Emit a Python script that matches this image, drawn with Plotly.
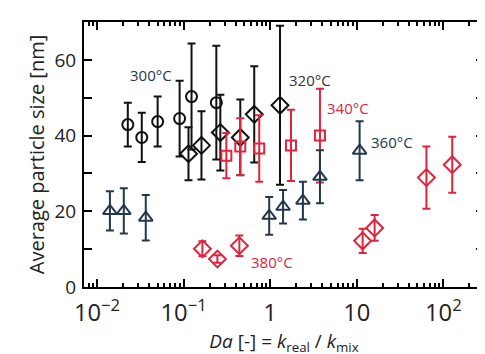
import plotly.graph_objects as go

# 300 °C (black circles)
x300 = [0.0227, 0.0329, 0.0502, 0.090, 0.1236, 0.239]
y300 = [42.9, 39.5, 43.7, 44.5, 50.3, 48.7]
e300 = [5.8, 6.5, 6.6, 10, 14, 15]

# 320 °C (black diamonds)
x320 = [0.114, 0.161, 0.266, 0.452, 0.655, 1.30]
y320 = [35.2, 37.4, 40.8, 39.5, 45.6, 48.0]
e320 = [7, 9, 10, 10, 12.7, 21]

# 340 °C (red squares)
x340 = [0.312, 0.452, 0.748, 1.74, 3.76]
y340 = [34.7, 37.1, 36.6, 37.4, 40.0]
e340 = [6, 7.5, 8.8, 9.4, 12.4]

# 360 °C (navy triangles)
x360 = [0.0141, 0.0204, 0.0366, 0.975, 1.41, 2.39, 3.76, 10.8]
y360 = [20.1, 20.1, 18.3, 18.8, 21.2, 22.8, 29.1, 36.0]
e360 = [5.2, 6, 6, 5, 4.4, 5, 7, 7.8]

# 380 °C (red diamonds)
x380 = [0.165, 0.246, 0.441, 11.7, 16.1, 63.8, 126.8]
y380 = [10.1, 7.4, 10.9, 12.2, 15.6, 28.9, 32.3]
e380 = [2, 1, 2.7, 3.2, 3.4, 8.2, 7.4]

labels = ["300°C", "320°C", "340°C", "360°C", "380°C"]

BLACK = "#111111"
RED = "#e0243c"
NAVY = "#22384e"
TXT = "#222222"

series = [
    (x300, y300, e300, "circle-open", BLACK, 11),
    (x320, y320, e320, "diamond-open", BLACK, 13),
    (x340, y340, e340, "square-open", RED, 10),
    (x360, y360, e360, "triangle-up-open", NAVY, 12),
    (x380, y380, e380, "diamond-open", RED, 13),
]

fig = go.Figure()
for (xs, ys, es, sym, col, sz), name in zip(series, labels):
    fig.add_trace(go.Scatter(
        x=xs, y=ys, mode="markers", name=name,
        marker=dict(symbol=sym, size=sz, color=col, line=dict(width=2, color=col)),
        error_y=dict(type="data", array=es, visible=True, color=col, thickness=2, width=4),
        showlegend=False,
    ))

ann_pos = [
    (-1.379, 55.9, NAVY),
    (0.460, 54.8, "#333333"),
    (0.897, 47.4, RED),
    (1.402, 38.4, NAVY),
    (0.023, 6.6, RED),
]
for (ax, ay, col), txt in zip(ann_pos, labels):
    fig.add_annotation(x=ax, y=ay, text=txt, showarrow=False,
                       font=dict(size=15, color=col, family="Open Sans"))

axis_common = dict(
    showline=True, linecolor="black", linewidth=2, mirror="allticks",
    ticks="inside", ticklen=8, tickwidth=2, tickcolor="black",
    showgrid=False, zeroline=False,
    tickfont=dict(size=19, color=TXT, family="Open Sans"),
)

fig.update_xaxes(
    type="log", range=[-2.15, 2.47], dtick=1, exponentformat="power",
    minor=dict(ticks="inside", ticklen=4, tickwidth=1.5, tickcolor="black", showgrid=False),
    ticklabelstandoff=4,
    title=dict(text="<i>Da</i> [-] = <i>k</i><sub>real</sub> / <i>k</i><sub>mix</sub>",
               font=dict(size=19, color=TXT, family="Open Sans"), standoff=0),
    **axis_common,
)
fig.update_yaxes(
    range=[0, 70], dtick=20,
    minor=dict(ticks="inside", ticklen=8, tickwidth=2, tickcolor="black", dtick=10, showgrid=False),
    ticklabelstandoff=2,
    title=dict(text="Average particle size [nm]",
               font=dict(size=20, color=TXT, family="Open Sans"), standoff=4),
    **axis_common,
)

fig.update_layout(
    width=485, height=354,
    margin=dict(l=76, r=7, t=14, b=75),
    plot_bgcolor="white", paper_bgcolor="white",
    font=dict(family="Open Sans"),
)

fig.write_html("out.html")
